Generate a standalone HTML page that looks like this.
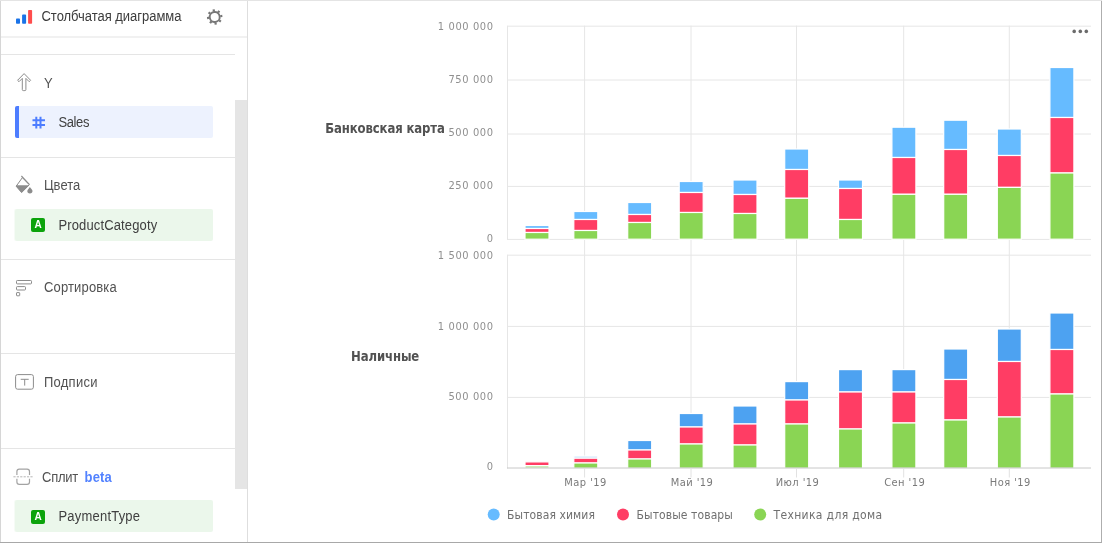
<!DOCTYPE html>
<html lang="ru"><head><meta charset="utf-8"><title>Столбчатая диаграмма</title>
<style>
html,body{margin:0;padding:0;background:#fff;}
body{width:1102px;height:543px;position:relative;overflow:hidden;font-family:"Liberation Sans",sans-serif;font-size:13px;color:#333;}
.abs{position:absolute;}
.frame{position:absolute;left:0;top:0;width:1101px;height:542px;border-right:1px solid #aeaeae;border-bottom:1px solid #a8a8a8;}
.frame:before{content:"";position:absolute;left:0;top:0;width:1px;height:542px;background:#d6d6d6;}
.frame:after{content:"";position:absolute;left:0;top:0;width:1102px;height:1px;background:#e4e4e4;}
.hl{position:absolute;height:1px;background:#e5e5e5;left:1px;}
.t{position:absolute;white-space:nowrap;line-height:16px;height:16px;transform:scaleY(1.07);transform-origin:0 12.3px;}
.sec{color:#525252;}
.item{position:absolute;left:15px;width:198px;height:32px;border-radius:2px;}
.item.g{background:#ebf7eb;box-shadow:-1px 0 0 rgba(235,247,235,.45);}
.item.b{background:#edf2fe;}
.item.b:before{content:"";position:absolute;left:0;top:0;width:4px;height:32px;background:#4d7dff;border-radius:2px 0 0 2px;}
.ai{position:absolute;left:16px;top:9.5px;width:14px;height:14px;border-radius:2px;background:#0ca30c;color:#fff;font-weight:bold;font-size:10px;line-height:14px;text-align:center;}
.it{position:absolute;left:43.5px;top:9px;line-height:16px;white-space:nowrap;color:#404040;transform:scaleY(1.07);transform-origin:0 12.3px;}
svg text.ax{font-family:"DejaVu Sans Condensed","DejaVu Sans",sans-serif;font-size:11px;fill:#8f8f8f;letter-spacing:0.6px;}
svg text.xl{fill:#7a7a7a;letter-spacing:0.45px;}
svg text.lg{font-family:"DejaVu Sans Condensed","DejaVu Sans",sans-serif;font-size:12px;fill:#707070;letter-spacing:0.1px;}
svg text.ti{font-family:"DejaVu Sans Condensed","DejaVu Sans",sans-serif;font-size:13px;font-weight:bold;fill:#525252;}
</style></head>
<body>
<!-- left panel -->
<div class="abs" style="left:247px;top:1px;width:1px;height:541px;background:#dedede"></div>
<div class="hl" style="top:36px;width:246px;height:2px;background:#f1f1f1"></div>
<div class="hl" style="top:54px;width:234px"></div>
<div class="hl" style="top:157px;width:234px"></div>
<div class="hl" style="top:259px;width:234px"></div>
<div class="hl" style="top:353px;width:234px"></div>
<div class="hl" style="top:448px;width:234px"></div>
<div class="abs" style="left:235px;top:100px;width:12px;height:389px;background:#e5e5e5"></div>

<!-- header -->
<svg class="abs" style="left:0;top:0" width="248" height="37" viewBox="0 0 248 37">
 <rect x="16" y="18.6" width="4" height="5.2" rx="0.8" fill="#1a73e8"/>
 <rect x="22.1" y="14.6" width="4" height="9.2" rx="0.8" fill="#1a73e8"/>
 <rect x="28.1" y="9.9" width="4" height="13.9" rx="0.8" fill="#ff4d4d"/>
 <g transform="translate(214.7 17) rotate(-8)" fill="none" stroke="#777">
  <circle r="5" stroke-width="1.9"/>
  <g stroke-width="2.2">
   <path d="M0 -5.6V-7.7M0 5.6V7.7M-5.6 0H-7.7M5.6 0H7.7"/>
   <path d="M0 -5.6V-7.7M0 5.6V7.7M-5.6 0H-7.7M5.6 0H7.7" transform="rotate(45)"/>
  </g>
 </g>
</svg>
<div class="t" style="left:41.5px;top:9px;color:#3c3c3c;letter-spacing:-0.03px">Столбчатая диаграмма</div>

<!-- Y -->
<svg class="abs" style="left:14px;top:70px" width="22" height="24" viewBox="14 70 22 24" fill="none" stroke="#8c8c8c" stroke-width="1">
 <path d="M24.1 73.6L30.6 80.3L29.2 81.7L25.9 78.4V89.6Q25.9 90.6 24.9 90.6H23.3Q22.3 90.6 22.3 89.6V78.4L19 81.7L17.6 80.3Z" stroke-linejoin="round"/>
</svg>
<div class="t sec" style="left:44px;top:76px">Y</div>
<div class="item b" style="top:106px">
 <svg class="abs" style="left:17px;top:10px" width="14" height="13" viewBox="0 0 14 13" stroke="#4d7dff" stroke-width="2" fill="none"><path d="M0.5 4.3H13M0.5 9H13M4.3 0.8V12.6M8.5 0.8V12.6"/></svg>
 <div class="it" style="letter-spacing:-0.4px">Sales</div>
</div>

<!-- Colors -->
<svg class="abs" style="left:14px;top:174px" width="22" height="22" viewBox="14 174 22 22">
 <path d="M22.4 177.6L29.3 184.7L21.6 192.5L16.2 186.2Z" fill="#fff" stroke="#8c8c8c" stroke-width="1" stroke-linejoin="round"/>
 <path d="M16.2 185.2H29.3L21.6 192.7L16 186.2Z" fill="#8c8c8c"/>
 <path d="M21.4 176L29.3 184.3" stroke="#8c8c8c" stroke-width="1.1" fill="none"/>
 <path d="M29.9 186.9Q32.5 190 32.5 191Q32.5 193.4 29.9 193.4Q27.3 193.4 27.3 191Q27.3 190 29.9 186.9Z" fill="#8c8c8c"/>
</svg>
<div class="t sec" style="left:44px;top:178px">Цвета</div>
<div class="item g" style="top:209px"><div class="ai" style="top:9px">A</div><div class="it" style="letter-spacing:0.13px">ProductCategoty</div></div>

<!-- Sort -->
<svg class="abs" style="left:14px;top:278px" width="22" height="20" viewBox="14 278 22 20" fill="none" stroke="#8c8c8c" stroke-width="1">
 <rect x="16.5" y="280.5" width="15" height="3.4" rx="0.8"/>
 <rect x="16.5" y="286.6" width="9" height="3.4" rx="0.8"/>
 <rect x="16.5" y="292.6" width="3.2" height="3.2" rx="0.5"/>
</svg>
<div class="t sec" style="left:44px;top:280px;letter-spacing:0.15px">Сортировка</div>

<!-- Labels -->
<svg class="abs" style="left:14px;top:372px" width="22" height="20" viewBox="14 372 22 20" fill="none" stroke="#8c8c8c" stroke-width="1">
 <rect x="15.6" y="374.6" width="17.8" height="14.6" rx="2"/>
 <path d="M20.7 379.3H28.7M24.7 379.3V385.6"/>
</svg>
<div class="t sec" style="left:44px;top:375px;letter-spacing:0.25px">Подписи</div>

<!-- Split -->
<svg class="abs" style="left:12px;top:466px" width="24" height="22" viewBox="12 466 24 22" fill="none" stroke="#a3a3a3" stroke-width="1.2">
 <path d="M16.9 474.9V471.6Q16.9 469.2 19.3 469.2H27.1Q29.5 469.2 29.5 471.6V474.9M16.9 478.7V482Q16.9 484.4 19.3 484.4H27.1Q29.5 484.4 29.5 482V478.7"/>
 <path d="M13.4 476.8H33" stroke="#b5b5b5" stroke-width="1" stroke-dasharray="2.2 1.2"/>
</svg>
<div class="t sec" style="left:42px;top:470px"><span style="letter-spacing:-0.25px">Сплит</span> <b style="color:#5282ff;margin-left:3px;letter-spacing:0.1px">beta</b></div>
<div class="item g" style="top:500px"><div class="ai">A</div><div class="it" style="letter-spacing:0.2px">PaymentType</div></div>

<!-- chart -->
<svg class="abs" style="left:248px;top:1px" width="853" height="541" viewBox="248 1 853 541">
<path d="M507.5 26.2H1091" stroke="#e6e6e6" stroke-width="1"/>
<path d="M507.5 80.0H1091" stroke="#e6e6e6" stroke-width="1"/>
<path d="M507.5 134.0H1091" stroke="#e6e6e6" stroke-width="1"/>
<path d="M507.5 186.4H1091" stroke="#e6e6e6" stroke-width="1"/>
<path d="M507.5 239.4H1091" stroke="#e6e6e6" stroke-width="1"/>
<path d="M507.5 255.2H1091" stroke="#e6e6e6" stroke-width="1"/>
<path d="M507.5 326.4H1091" stroke="#e6e6e6" stroke-width="1"/>
<path d="M507.5 397.4H1091" stroke="#e6e6e6" stroke-width="1"/>
<path d="M584.6 25.7V468.0" stroke="#e6e6e6" stroke-width="1"/>
<path d="M691 25.7V468.0" stroke="#e6e6e6" stroke-width="1"/>
<path d="M796.5 25.7V468.0" stroke="#e6e6e6" stroke-width="1"/>
<path d="M903.7 25.7V468.0" stroke="#e6e6e6" stroke-width="1"/>
<path d="M1009.3 25.7V468.0" stroke="#e6e6e6" stroke-width="1"/>
<path d="M507.5 25.7V239.9M507.5 254.7V468.5" stroke="#e6e6e6" stroke-width="1"/>
<g shape-rendering="auto">
<rect x="525.0" y="225.5" width="24.0" height="3.0" fill="#66bbff" stroke="#fff" stroke-width="1.2"/>
<rect x="525.0" y="228.5" width="24.0" height="4.0" fill="#ff3d64" stroke="#fff" stroke-width="1.2"/>
<rect x="525.0" y="232.5" width="24.0" height="6.7" fill="#8ad554" stroke="#fff" stroke-width="1.2"/>
<rect x="573.8" y="211.5" width="24.0" height="8.0" fill="#66bbff" stroke="#fff" stroke-width="1.2"/>
<rect x="573.8" y="219.5" width="24.0" height="11.0" fill="#ff3d64" stroke="#fff" stroke-width="1.2"/>
<rect x="573.8" y="230.5" width="24.0" height="8.7" fill="#8ad554" stroke="#fff" stroke-width="1.2"/>
<rect x="627.7" y="202.5" width="24.0" height="12.0" fill="#66bbff" stroke="#fff" stroke-width="1.2"/>
<rect x="627.7" y="214.5" width="24.0" height="8.0" fill="#ff3d64" stroke="#fff" stroke-width="1.2"/>
<rect x="627.7" y="222.5" width="24.0" height="16.7" fill="#8ad554" stroke="#fff" stroke-width="1.2"/>
<rect x="679.2" y="181.5" width="24.0" height="11.0" fill="#66bbff" stroke="#fff" stroke-width="1.2"/>
<rect x="679.2" y="192.5" width="24.0" height="20.0" fill="#ff3d64" stroke="#fff" stroke-width="1.2"/>
<rect x="679.2" y="212.5" width="24.0" height="26.7" fill="#8ad554" stroke="#fff" stroke-width="1.2"/>
<rect x="733.0" y="180.0" width="24.0" height="14.5" fill="#66bbff" stroke="#fff" stroke-width="1.2"/>
<rect x="733.0" y="194.5" width="24.0" height="19.0" fill="#ff3d64" stroke="#fff" stroke-width="1.2"/>
<rect x="733.0" y="213.5" width="24.0" height="25.7" fill="#8ad554" stroke="#fff" stroke-width="1.2"/>
<rect x="784.7" y="149.0" width="24.0" height="20.5" fill="#66bbff" stroke="#fff" stroke-width="1.2"/>
<rect x="784.7" y="169.5" width="24.0" height="28.8" fill="#ff3d64" stroke="#fff" stroke-width="1.2"/>
<rect x="784.7" y="198.3" width="24.0" height="40.9" fill="#8ad554" stroke="#fff" stroke-width="1.2"/>
<rect x="838.5" y="180.0" width="24.0" height="8.5" fill="#66bbff" stroke="#fff" stroke-width="1.2"/>
<rect x="838.5" y="188.5" width="24.0" height="31.0" fill="#ff3d64" stroke="#fff" stroke-width="1.2"/>
<rect x="838.5" y="219.5" width="24.0" height="19.7" fill="#8ad554" stroke="#fff" stroke-width="1.2"/>
<rect x="891.9" y="127.2" width="24.0" height="30.3" fill="#66bbff" stroke="#fff" stroke-width="1.2"/>
<rect x="891.9" y="157.5" width="24.0" height="36.8" fill="#ff3d64" stroke="#fff" stroke-width="1.2"/>
<rect x="891.9" y="194.3" width="24.0" height="44.9" fill="#8ad554" stroke="#fff" stroke-width="1.2"/>
<rect x="943.7" y="120.2" width="24.0" height="29.3" fill="#66bbff" stroke="#fff" stroke-width="1.2"/>
<rect x="943.7" y="149.5" width="24.0" height="44.8" fill="#ff3d64" stroke="#fff" stroke-width="1.2"/>
<rect x="943.7" y="194.3" width="24.0" height="44.9" fill="#8ad554" stroke="#fff" stroke-width="1.2"/>
<rect x="997.3" y="129.0" width="24.0" height="26.5" fill="#66bbff" stroke="#fff" stroke-width="1.2"/>
<rect x="997.3" y="155.5" width="24.0" height="31.9" fill="#ff3d64" stroke="#fff" stroke-width="1.2"/>
<rect x="997.3" y="187.4" width="24.0" height="51.8" fill="#8ad554" stroke="#fff" stroke-width="1.2"/>
<rect x="1049.9" y="67.5" width="24.0" height="50.0" fill="#66bbff" stroke="#fff" stroke-width="1.2"/>
<rect x="1049.9" y="117.5" width="24.0" height="55.5" fill="#ff3d64" stroke="#fff" stroke-width="1.2"/>
<rect x="1049.9" y="173.0" width="24.0" height="66.2" fill="#8ad554" stroke="#fff" stroke-width="1.2"/>
<rect x="525.0" y="461.9" width="24.0" height="3.7" fill="#ff3d64" stroke="#fff" stroke-width="1.2"/>
<rect x="525.0" y="465.6" width="24.0" height="2.7" fill="#c3e9a6" stroke="#fff" stroke-width="1.2"/>
<rect x="573.8" y="456.1" width="24.0" height="2.1" fill="#a9d2f8" stroke="#fff" stroke-width="1.2"/>
<rect x="573.8" y="458.2" width="24.0" height="4.8" fill="#ff3d64" stroke="#fff" stroke-width="1.2"/>
<rect x="573.8" y="463.0" width="24.0" height="5.3" fill="#8ad554" stroke="#fff" stroke-width="1.2"/>
<rect x="627.7" y="440.5" width="24.0" height="9.5" fill="#4da2f1" stroke="#fff" stroke-width="1.2"/>
<rect x="627.7" y="450.0" width="24.0" height="9.0" fill="#ff3d64" stroke="#fff" stroke-width="1.2"/>
<rect x="627.7" y="459.0" width="24.0" height="9.3" fill="#8ad554" stroke="#fff" stroke-width="1.2"/>
<rect x="679.2" y="413.5" width="24.0" height="13.5" fill="#4da2f1" stroke="#fff" stroke-width="1.2"/>
<rect x="679.2" y="427.0" width="24.0" height="17.0" fill="#ff3d64" stroke="#fff" stroke-width="1.2"/>
<rect x="679.2" y="444.0" width="24.0" height="24.3" fill="#8ad554" stroke="#fff" stroke-width="1.2"/>
<rect x="733.0" y="406.0" width="24.0" height="18.0" fill="#4da2f1" stroke="#fff" stroke-width="1.2"/>
<rect x="733.0" y="424.0" width="24.0" height="21.0" fill="#ff3d64" stroke="#fff" stroke-width="1.2"/>
<rect x="733.0" y="445.0" width="24.0" height="23.3" fill="#8ad554" stroke="#fff" stroke-width="1.2"/>
<rect x="784.7" y="381.6" width="24.0" height="18.4" fill="#4da2f1" stroke="#fff" stroke-width="1.2"/>
<rect x="784.7" y="400.0" width="24.0" height="24.0" fill="#ff3d64" stroke="#fff" stroke-width="1.2"/>
<rect x="784.7" y="424.0" width="24.0" height="44.3" fill="#8ad554" stroke="#fff" stroke-width="1.2"/>
<rect x="838.5" y="369.6" width="24.0" height="22.4" fill="#4da2f1" stroke="#fff" stroke-width="1.2"/>
<rect x="838.5" y="392.0" width="24.0" height="37.0" fill="#ff3d64" stroke="#fff" stroke-width="1.2"/>
<rect x="838.5" y="429.0" width="24.0" height="39.3" fill="#8ad554" stroke="#fff" stroke-width="1.2"/>
<rect x="891.9" y="369.6" width="24.0" height="22.4" fill="#4da2f1" stroke="#fff" stroke-width="1.2"/>
<rect x="891.9" y="392.0" width="24.0" height="31.0" fill="#ff3d64" stroke="#fff" stroke-width="1.2"/>
<rect x="891.9" y="423.0" width="24.0" height="45.3" fill="#8ad554" stroke="#fff" stroke-width="1.2"/>
<rect x="943.7" y="349.0" width="24.0" height="30.5" fill="#4da2f1" stroke="#fff" stroke-width="1.2"/>
<rect x="943.7" y="379.5" width="24.0" height="40.5" fill="#ff3d64" stroke="#fff" stroke-width="1.2"/>
<rect x="943.7" y="420.0" width="24.0" height="48.3" fill="#8ad554" stroke="#fff" stroke-width="1.2"/>
<rect x="997.3" y="329.0" width="24.0" height="32.5" fill="#4da2f1" stroke="#fff" stroke-width="1.2"/>
<rect x="997.3" y="361.5" width="24.0" height="55.5" fill="#ff3d64" stroke="#fff" stroke-width="1.2"/>
<rect x="997.3" y="417.0" width="24.0" height="51.3" fill="#8ad554" stroke="#fff" stroke-width="1.2"/>
<rect x="1049.9" y="313.0" width="24.0" height="36.5" fill="#4da2f1" stroke="#fff" stroke-width="1.2"/>
<rect x="1049.9" y="349.5" width="24.0" height="44.5" fill="#ff3d64" stroke="#fff" stroke-width="1.2"/>
<rect x="1049.9" y="394.0" width="24.0" height="74.3" fill="#8ad554" stroke="#fff" stroke-width="1.2"/>
</g>
<path d="M507.0 468.0H1091" stroke="#c8c8c8" stroke-width="1"/><path d="M584.6 468.0V477.5" stroke="#e2e2e2" stroke-width="1"/><path d="M691 468.0V477.5" stroke="#e2e2e2" stroke-width="1"/><path d="M796.5 468.0V477.5" stroke="#e2e2e2" stroke-width="1"/><path d="M903.7 468.0V477.5" stroke="#e2e2e2" stroke-width="1"/><path d="M1009.3 468.0V477.5" stroke="#e2e2e2" stroke-width="1"/>
<g>
</g>
<text x="493.6" y="29.7" text-anchor="end" class="ax">1 000 000</text>
<text x="493.6" y="82.9" text-anchor="end" class="ax">750 000</text>
<text x="493.6" y="136.0" text-anchor="end" class="ax">500 000</text>
<text x="493.6" y="189.1" text-anchor="end" class="ax">250 000</text>
<text x="493.6" y="241.9" text-anchor="end" class="ax">0</text>
<text x="493.6" y="258.7" text-anchor="end" class="ax">1 500 000</text>
<text x="493.6" y="329.5" text-anchor="end" class="ax">1 000 000</text>
<text x="493.6" y="399.8" text-anchor="end" class="ax">500 000</text>
<text x="493.6" y="470.2" text-anchor="end" class="ax">0</text>
<text x="585.6" y="486" text-anchor="middle" class="ax xl">Мар '19</text>
<text x="692" y="486" text-anchor="middle" class="ax xl">Май '19</text>
<text x="797.5" y="486" text-anchor="middle" class="ax xl">Июл '19</text>
<text x="904.7" y="486" text-anchor="middle" class="ax xl">Сен '19</text>
<text x="1010.3" y="486" text-anchor="middle" class="ax xl">Ноя '19</text>
<text x="325.3" y="133" class="ti" transform="translate(0 133) scale(1 1.07) translate(0 -133)" style="letter-spacing:-0.12px">Банковская карта</text>
<text x="351" y="361.3" class="ti" transform="translate(0 361.3) scale(1 1.1) translate(0 -361.3)" style="letter-spacing:-0.1px">Наличные</text>
<circle cx="1074.2" cy="31.4" r="1.8" fill="#6b6b6b"/><circle cx="1080.3" cy="31.4" r="1.8" fill="#6b6b6b"/><circle cx="1086.3" cy="31.4" r="1.8" fill="#6b6b6b"/>
<circle cx="493.7" cy="514.5" r="6" fill="#66bbff"/><text x="507" y="519" class="lg">Бытовая химия</text>
<circle cx="623" cy="514.5" r="6" fill="#ff3d64"/><text x="636.5" y="519" class="lg">Бытовые товары</text>
<circle cx="760.2" cy="514.5" r="6" fill="#8ad554"/><text x="773.5" y="519" class="lg" style="letter-spacing:0.35px">Техника для дома</text>
</svg>
<div class="frame"></div>
</body></html>
